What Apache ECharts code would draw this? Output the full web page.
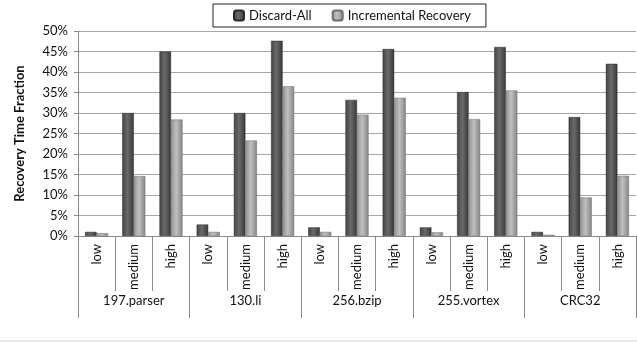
<!DOCTYPE html>
<html>
<head>
<meta charset="utf-8">
<script src="https://cdn.jsdelivr.net/npm/echarts@6/dist/echarts.min.js"></script>
<style>
  html, body { margin: 0; padding: 0; background: #fff; }
  #chart { width: 637px; height: 356px; }
</style>
</head>
<body>
<div id="chart"></div>
<script>
// Benchmarks and fault-rate levels
const groups = ['197.parser', '130.li', '256.bzip', '255.vortex', 'CRC32'];
const levels = ['low', 'medium', 'high'];

// Recovery time fraction (%) for each benchmark x level
const discardAll = [1.0, 30.0, 45.0, 2.8, 30.0, 47.6, 2.1, 33.2, 45.6, 2.1, 35.1, 46.1, 1.0, 29.0, 42.0];
const incrementalRecovery = [0.7, 14.6, 28.4, 1.0, 23.3, 36.5, 1.0, 29.6, 33.7, 0.9, 28.5, 35.5, 0.3, 9.4, 14.7];

// y axis ticks
const yMin = 0, yMax = 50, yStep = 5;

const categories = [];
groups.forEach(() => levels.forEach(l => categories.push(l)));

const FONT = 'Lato';

function shade(c0, c1, c2) {
  return new echarts.graphic.LinearGradient(0, 0, 1, 0, [
    { offset: 0, color: c0 },
    { offset: 0.45, color: c1 },
    { offset: 1, color: c2 }
  ]);
}

const chart = echarts.init(document.getElementById('chart'), null, { renderer: 'canvas' });

chart.setOption({
  animation: false,
  backgroundColor: '#ffffff',
  textStyle: { fontFamily: FONT },
  legend: {
    left: 213,
    top: 4,
    padding: [5, 15, 5, 20],
    itemWidth: 10,
    itemHeight: 10,
    itemGap: 20,
    borderColor: '#222',
    borderWidth: 1,
    borderRadius: 0,
    textStyle: { fontFamily: FONT, fontSize: 13, color: '#111' },
    data: ['Discard-All', 'Incremental Recovery']
  },
  grid: { left: 78, right: 1, top: 31, bottom: 120, containLabel: false },
  xAxis: [
    {
      type: 'category',
      data: categories,
      position: 'bottom',
      axisLine: { show: true, lineStyle: { color: '#8a8a8a', width: 1 } },
      axisTick: { show: true, interval: 0, length: 55, lineStyle: { color: '#8a8a8a' } },
      axisLabel: {
        interval: 0, rotate: 90, margin: 8,
        fontFamily: FONT, fontSize: 13, color: '#111'
      },
      splitLine: { show: false }
    },
    {
      type: 'category',
      data: groups,
      position: 'bottom',
      axisLine: { show: false },
      axisTick: { show: true, interval: 0, length: 82, lineStyle: { color: '#8a8a8a' } },
      axisLabel: {
        interval: 0, margin: 58,
        fontFamily: FONT, fontSize: 13, color: '#111'
      },
      splitLine: { show: false }
    }
  ],
  yAxis: {
    type: 'value',
    min: yMin,
    max: yMax,
    interval: yStep,
    name: 'Recovery Time Fraction',
    nameLocation: 'middle',
    nameGap: 52,
    nameTextStyle: { fontFamily: FONT, fontSize: 13, fontWeight: 'bold', color: '#111' },
    axisLine: { show: true, lineStyle: { color: '#8a8a8a' } },
    axisTick: { show: true, length: 4, lineStyle: { color: '#8a8a8a' } },
    axisLabel: { formatter: '{value}%', margin: 10, fontFamily: FONT, fontSize: 13, color: '#111' },
    splitLine: { show: true, lineStyle: { color: '#a6a6a6', width: 1 } }
  },
  series: [
    {
      name: 'Discard-All',
      type: 'bar',
      xAxisIndex: 0,
      data: discardAll,
      barGap: '0%',
      barCategoryGap: '38%',
      itemStyle: {
        color: shade('#444444', '#6a6a6a', '#383838'),
        borderColor: '#2a2a2a',
        borderWidth: 0.5
      }
    },
    {
      name: 'Incremental Recovery',
      type: 'bar',
      xAxisIndex: 0,
      data: incrementalRecovery,
      barGap: '0%',
      barCategoryGap: '38%',
      itemStyle: {
        color: shade('#909090', '#c0c0c0', '#858585'),
        borderColor: '#6e6e6e',
        borderWidth: 0.5
      }
    }
  ],
  graphic: [
    {
      type: 'line',
      shape: { x1: 0, y1: 341, x2: 637, y2: 341 },
      style: { stroke: '#d0d0d0', lineWidth: 1 }
    }
  ]
});
</script>
</body>
</html>
